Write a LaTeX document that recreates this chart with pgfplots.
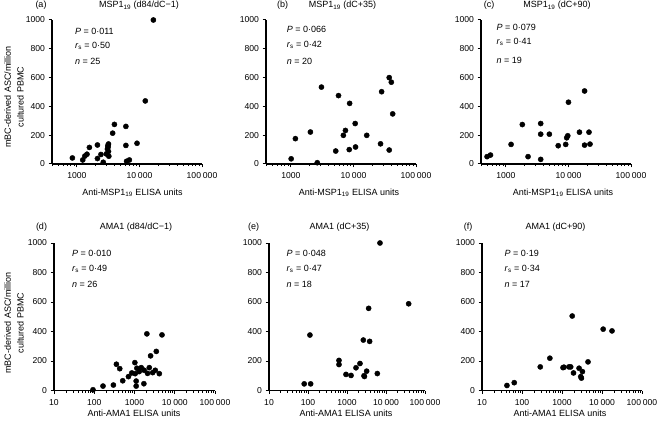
\documentclass[border=0pt]{standalone}
\usepackage{pgfplots}
\pgfplotsset{compat=1.18}
\usepackage{fontspec}
\setmainfont{Liberation Sans}
\newcommand{\lab}{\fontsize{9bp}{11bp}\selectfont}
\newcommand{\ts}{\hspace{0.22em}}
\pgfkeys{/pgf/number format/set thousands separator={}, /pgf/number format/assume math mode=true}
\pgfplotsset{
  prism/.style={
    scale only axis, anchor=south west,
    axis x line*=bottom, axis y line*=left,
    axis line style={line width=1.3pt},
    every tick/.style={black, line width=1pt},
    tick align=outside,
    major tick length=3.5bp, minor tick length=2.2bp,
    ymin=0, ymax=1000, ytick={0,200,400,600,800,1000},
    tick label style={font=\fontsize{8.6bp}{10bp}\selectfont},
    xticklabel style={yshift=-1.5bp},
    clip=false,
  },
  topp/.style={prism, width=150bp, height=144bp, xmin=400, xmax=100000,
    xtick={1000,10000,100000}, xticklabels={1000,10\ts000,100\ts000},
    minor xtick={400,500,600,700,800,900,2000,3000,4000,5000,6000,7000,8000,9000,20000,30000,40000,50000,60000,70000,80000,90000}},
  botp/.style={prism, height=147.5bp, xmin=10, xmax=100000,
    xtick={10,100,1000,10000,100000}, xticklabels={10,100,1000,10\ts000,100\ts000},
    minor xtick={20,30,40,50,60,70,80,90,200,300,400,500,600,700,800,900,2000,3000,4000,5000,6000,7000,8000,9000,20000,30000,40000,50000,60000,70000,80000,90000}},
}
\begin{document}
\begin{tikzpicture}
\useasboundingbox (0,0) rectangle (659bp,421bp);

% ---------- (a)
\begin{axis}[xmode=log, topp, at={(52bp,257bp)}]
\addplot[only marks, mark=*, mark size=2.6pt, black] coordinates {(16700,1000) (12400,438) (3980,275) (3730,214) (6070,261) (9150,144) (6070,129) (847,42) (1240,28) (1450,68) (1585,115) (2130,132) (2130,38) (2420,66) (2640,12) (3080,104) (3120,127) (3200,139) (3200,87) (3240,54) (3160,118) (6230,19) (6900,28) (1340,55) (2950,70)};
\node[anchor=base west, font=\lab] at (rel axis cs:0.13,0.90) {\textit{P} = 0·011};
\node[anchor=base west, font=\lab] at (rel axis cs:0.13,0.80) {\textit{r}\textsubscript{s} = 0·50};
\node[anchor=base west, font=\lab] at (rel axis cs:0.13,0.69) {\textit{n} = 25};
\end{axis}
% ---------- (b)
\begin{axis}[xmode=log, topp, at={(266bp,257bp)}]
\addplot[only marks, mark=*, mark size=2.6pt, black] coordinates {(1010,36) (1180,176) (2050,222) (2640,9) (3080,534) (5210,90) (5770,475) (8690,421) (10660,281) (10800,118) (8570,100) (6900,199) (7450,233) (16300,199) (27100,140) (28200,502) (37300,600) (40300,568) (42400,348) (37300,97)};
\node[anchor=base west, font=\lab] at (rel axis cs:0.115,0.91) {\textit{P} = 0·066};
\node[anchor=base west, font=\lab] at (rel axis cs:0.115,0.81) {\textit{r}\textsubscript{s} = 0·42};
\node[anchor=base west, font=\lab] at (rel axis cs:0.115,0.69) {\textit{n} = 20};
\end{axis}
% ---------- (c)
\begin{axis}[xmode=log, topp, at={(481bp,257bp)}]
\addplot[only marks, mark=*, mark size=2.6pt, black] coordinates {(500,51) (567,62) (1210,136) (1830,274) (2260,51) (3600,281) (3600,207) (3600,32) (4950,207) (6860,127) (9040,136) (9380,182) (9750,196) (10000,429) (15000,221) (18100,507) (18100,131) (21300,221) (22100,138)};
\node[anchor=base west, font=\lab] at (rel axis cs:0.08,0.93) {\textit{P} = 0·079};
\node[anchor=base west, font=\lab] at (rel axis cs:0.08,0.83) {\textit{r}\textsubscript{s} = 0·41};
\node[anchor=base west, font=\lab] at (rel axis cs:0.08,0.70) {\textit{n} = 19};
\end{axis}
% ---------- (d)
\begin{axis}[xmode=log, botp, width=161bp, at={(54bp,30.5bp)}]
\addplot[only marks, mark=*, mark size=2.6pt, black] coordinates {(93,5) (165,30) (299,37) (355,178) (430,148) (510,66) (708,94) (857,119) (1020,189) (1040,114) (1100,64) (1100,30) (1145,151) (1470,155) (1710,46) (1745,137) (2030,384) (2110,116) (2330,155) (2510,235) (2820,121) (3290,137) (3480,265) (4140,114) (4820,377) (1310,128)};
\node[anchor=base west, font=\lab] at (rel axis cs:0.09,0.91) {\textit{P} = 0·010};
\node[anchor=base west, font=\lab] at (rel axis cs:0.09,0.81) {\textit{r}\textsubscript{s} = 0·49};
\node[anchor=base west, font=\lab] at (rel axis cs:0.09,0.70) {\textit{n} = 26};
\end{axis}
% ---------- (e)
\begin{axis}[xmode=log, botp, width=156bp, at={(269bp,30.5bp)}]
\addplot[only marks, mark=*, mark size=2.6pt, black] coordinates {(80,45) (117,45) (112,376) (623,204) (623,176) (942,109) (1270,102) (1700,154) (2150,183) (2620,342) (2730,100) (3190,131) (3590,557) (3810,333) (5990,115) (7010,1000) (38100,588) (2800,95)};
\node[anchor=base west, font=\lab] at (rel axis cs:0.09,0.91) {\textit{P} = 0·048};
\node[anchor=base west, font=\lab] at (rel axis cs:0.09,0.81) {\textit{r}\textsubscript{s} = 0·47};
\node[anchor=base west, font=\lab] at (rel axis cs:0.09,0.70) {\textit{n} = 18};
\end{axis}
% ---------- (f)
\begin{axis}[xmode=log, botp, width=160bp, at={(482bp,30.5bp)}]
\addplot[only marks, mark=*, mark size=2.6pt, black] coordinates {(42,34) (64,53) (286,160) (497,219) (1060,155) (1120,158) (1490,160) (1650,160) (1800,505) (1940,119) (2670,151) (2940,94) (3060,84) (3240,128) (4470,194) (10700,416) (17800,404)};
\node[anchor=base west, font=\lab] at (rel axis cs:0.12,0.91) {\textit{P} = 0·19};
\node[anchor=base west, font=\lab] at (rel axis cs:0.12,0.81) {\textit{r}\textsubscript{s} = 0·34};
\node[anchor=base west, font=\lab] at (rel axis cs:0.12,0.70) {\textit{n} = 17};
\end{axis}

% titles and panel labels
\node[anchor=base, font=\lab] at (41bp,413bp) {(a)};
\node[anchor=base, font=\lab] at (139bp,413bp) {MSP1\textsubscript{19} (d84/dC−1)};
\node[anchor=base, font=\lab] at (282.5bp,413bp) {(b)};
\node[anchor=base, font=\lab] at (342.5bp,413bp) {MSP1\textsubscript{19} (dC+35)};
\node[anchor=base, font=\lab] at (489bp,413bp) {(c)};
\node[anchor=base, font=\lab] at (557bp,413bp) {MSP1\textsubscript{19} (dC+90)};
\node[anchor=base, font=\lab] at (41.5bp,191bp) {(d)};
\node[anchor=base, font=\lab] at (136bp,191bp) {AMA1 (d84/dC−1)};
\node[anchor=base, font=\lab] at (253.5bp,191bp) {(e)};
\node[anchor=base, font=\lab] at (339.5bp,191bp) {AMA1 (dC+35)};
\node[anchor=base, font=\lab] at (468bp,191bp) {(f)};
\node[anchor=base, font=\lab] at (555.5bp,191bp) {AMA1 (dC+90)};

% x axis labels
\node[anchor=base, font=\lab] at (132.5bp,225.5bp) {Anti-MSP1\textsubscript{19} ELISA units};
\node[anchor=base, font=\lab] at (349bp,225.5bp) {Anti-MSP1\textsubscript{19} ELISA units};
\node[anchor=base, font=\lab] at (563bp,225.5bp) {Anti-MSP1\textsubscript{19} ELISA units};
\node[anchor=base, font=\lab] at (134bp,4.5bp) {Anti-AMA1 ELISA units};
\node[anchor=base, font=\lab] at (346bp,4.5bp) {Anti-AMA1 ELISA units};
\node[anchor=base, font=\lab] at (560bp,4.5bp) {Anti-AMA1 ELISA units};

% y axis labels
\node[rotate=90, align=center, font=\fontsize{9bp}{12.7bp}\selectfont] at (14bp,324bp) {mBC-derived ASC/million\\cultured PBMC};
\node[rotate=90, align=center, font=\fontsize{9bp}{12.7bp}\selectfont] at (14bp,98bp) {mBC-derived ASC/million\\cultured PBMC};
\end{tikzpicture}
\end{document}
